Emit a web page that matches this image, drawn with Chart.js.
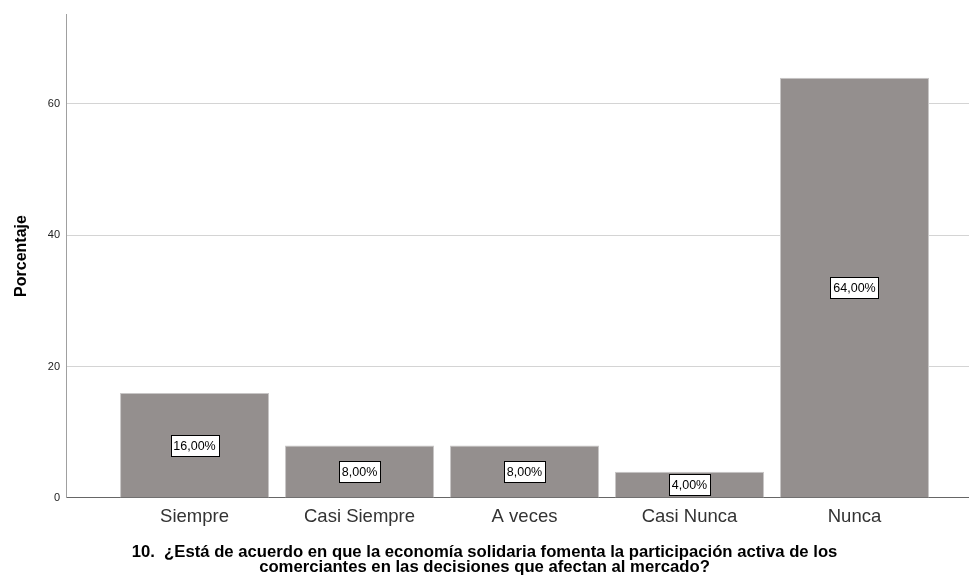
<!DOCTYPE html>
<html>
<head>
<meta charset="utf-8">
<script src="https://cdn.jsdelivr.net/npm/chart.js@4/dist/chart.umd.min.js"></script>
<style>
  html, body { margin: 0; padding: 0; background: #fff; }
  #wrap { width: 969px; height: 581px; }
</style>
</head>
<body>
<div id="wrap"><canvas id="barChart" width="969" height="581"></canvas></div>
<script>
// data
const categories = ['Siempre', 'Casi Siempre', 'A veces', 'Casi Nunca', 'Nunca'];
const percentages = [16, 8, 8, 4, 64];
const yTicks = [0, 20, 40, 60];
const titleLines = [
  '10.  ¿Está de acuerdo en que la economía solidaria fomenta la participación activa de los',
  'comerciantes en las decisiones que afectan al mercado?'
];

const FONT = '"Liberation Sans", Arial, sans-serif';

// white boxed value labels in the middle of each bar
const boxLabelPlugin = {
  id: 'boxLabelPlugin',
  afterDatasetsDraw(chart) {
    const ctx = chart.ctx;
    const meta = chart.getDatasetMeta(0);
    ctx.save();
    ctx.font = '12.5px ' + FONT;
    ctx.textAlign = 'center';
    ctx.textBaseline = 'middle';
    meta.data.forEach((bar, i) => {
      const text = percentages[i].toFixed(2).replace('.', ',') + '%';
      const w = Math.round(ctx.measureText(text).width + 6);
      const h = 21;
      const cy = (bar.y + bar.base) / 2;
      const x = Math.round(bar.x - w / 2) + 0.5;
      const y = Math.round(cy - h / 2) + 0.5;
      ctx.fillStyle = '#fff';
      ctx.fillRect(x, y, w, h);
      ctx.strokeStyle = '#000';
      ctx.lineWidth = 1;
      ctx.strokeRect(x, y, w, h);
      ctx.fillStyle = '#000';
      ctx.fillText(text, bar.x, cy + 1);
    });
    ctx.restore();
  }
};

new Chart(document.getElementById('barChart').getContext('2d'), {
  type: 'bar',
  data: {
    datasets: [{
      data: percentages.map((v, i) => ({ x: i, y: v })),
      backgroundColor: '#948f8e',
      borderColor: '#c8c6c6',
      borderWidth: 1,
      barPercentage: 0.903,
      categoryPercentage: 1
    }]
  },
  options: {
    responsive: false,
    animation: false,
    layout: { padding: { top: 14, right: 0, left: 0, bottom: 6.5 } },
    scales: {
      x: {
        type: 'linear',
        offset: false,
        min: -0.779,
        max: 4.694,
        afterBuildTicks: axis => { axis.ticks = categories.map((c, i) => ({ value: i })); },
        ticks: {
          callback: v => categories[v],
          color: '#333',
          font: { family: FONT, size: 18.5 },
          padding: 8,
          maxRotation: 0,
          autoSkip: false
        },
        grid: { display: false, drawTicks: false },
        border: { color: '#666', width: 1 },
        afterFit: axis => { axis.height = 40; }
      },
      y: {
        min: 0,
        max: 73.7,
        afterBuildTicks: axis => { axis.ticks = yTicks.map(v => ({ value: v })); },
        ticks: {
          color: '#222',
          font: { family: FONT, size: 11 },
          padding: 6
        },
        grid: {
          color: c => c.tick.value === 0 ? 'rgba(0,0,0,0)' : '#d4d4d4',
          lineWidth: 1,
          drawTicks: false
        },
        border: { color: '#a0a0a0', width: 1 },
        title: {
          display: true,
          text: 'Porcentaje',
          color: '#000',
          font: { family: FONT, size: 16, weight: 'bold' },
          padding: { top: 12, bottom: 4 }
        },
        afterFit: axis => { axis.width = 66; }
      }
    },
    plugins: {
      legend: { display: false },
      tooltip: { enabled: false },
      title: {
        display: true,
        position: 'bottom',
        text: titleLines,
        color: '#000',
        font: { family: FONT, size: 16.7, weight: 'bold', lineHeight: 0.9 },
        padding: { top: 6.5, bottom: 0 }
      }
    }
  },
  plugins: [boxLabelPlugin]
});
</script>
</body>
</html>
